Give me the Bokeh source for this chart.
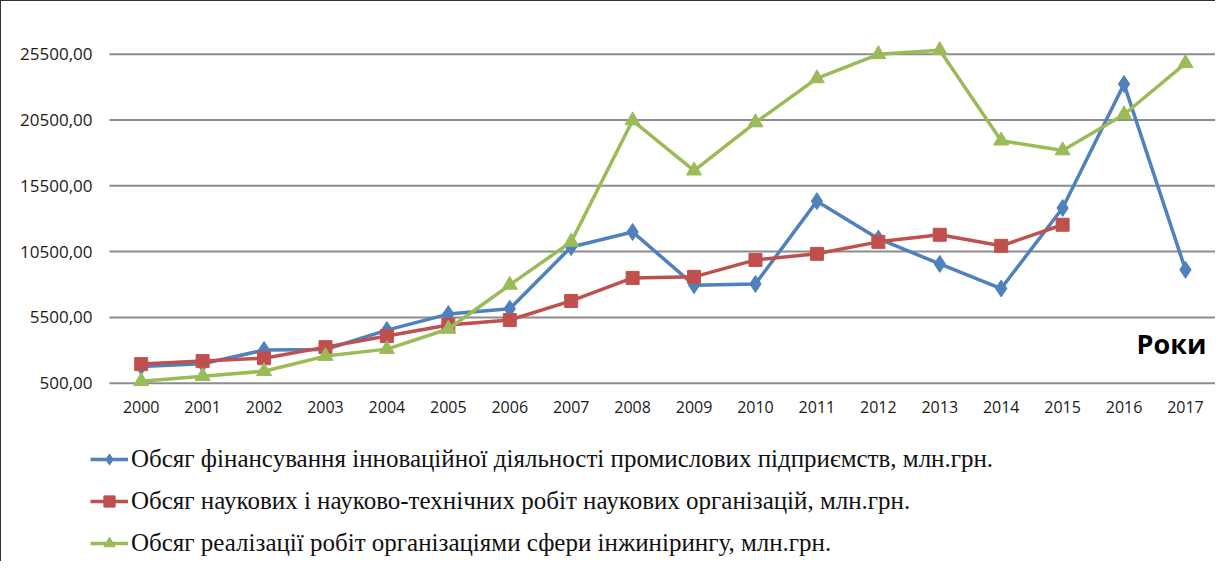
from bokeh.plotting import figure
from bokeh.models import Legend, LegendItem, Label, FixedTicker, Range1d
from bokeh.embed import file_html
from bokeh.resources import INLINE
import numpy as np

years = list(range(2000, 2018))
innovation = [1760, 1979, 3014, 3060, 4535, 5752, 6160, 10851, 11994, 7950,
              8046, 14334, 11481, 9563, 7696, 13814, 23230, 9118]
science = [1950, 2180, 2400, 3240, 4080, 4920, 5300, 6750, 8500, 8580,
           9870, 10330, 11240, 11780, 10940, 12540, np.nan, np.nan]
engineering = [650, 1030, 1410, 2560, 3090, 4620, 7970, 11240, 20460, 16650,
               20310, 23660, 25490, 25800, 18930, 18180, 20920, 24810]
y_ticks = [500, 5500, 10500, 15500, 20500, 25500]
y_tick_labels = ["500,00", "5500,00", "10500,00", "15500,00", "20500,00", "25500,00"]
names = [
    "Обсяг фінансування інноваційної діяльності промислових підприємств, млн.грн.",
    "Обсяг наукових і науково-технічних робіт наукових організацій, млн.грн.",
    "Обсяг реалізації робіт організаціями сфери інжинірингу, млн.грн.",
]
axis_title = "Роки"

BLUE = "#4F81BD"
RED = "#C0504D"
GREEN = "#9BBB59"

# plot-area extent (category axis: half a category of padding each side)
X_LEFT = 1999.484
X_RIGHT = 2017.505
Y_MIN = 500

p = figure(width=1215, height=561,
           min_border_left=0, min_border_right=0, min_border_top=0,
           min_border_bottom=0,
           x_range=Range1d(1997.726, 2017.505), y_range=Range1d(-13125, 29505),
           output_backend="svg", toolbar_location=None,
           styles={"border-top": "1.5px solid #333", "border-left": "1.5px solid #333"})
p.outline_line_color = None
p.xgrid.visible = False
p.ygrid.visible = False
p.background_fill_color = "white"
p.border_fill_color = "white"

# horizontal gridlines at the value-axis ticks, spanning the plot area
p.segment(x0=[X_LEFT] * len(y_ticks), x1=[X_RIGHT] * len(y_ticks),
          y0=y_ticks, y1=y_ticks, line_color="#8c8c8c", line_width=2)

p.yaxis.fixed_location = X_LEFT
p.yaxis.ticker = FixedTicker(ticks=y_ticks)
p.yaxis.major_label_overrides = {t: s for t, s in zip(y_ticks, y_tick_labels)}
p.yaxis.axis_line_color = None
p.yaxis.major_tick_line_color = None
p.yaxis.major_tick_out = 0
p.yaxis.major_tick_in = 0
p.yaxis.minor_tick_line_color = None
p.yaxis.major_label_text_font = "Open Sans"
p.yaxis.major_label_text_font_size = "17px"
p.yaxis.major_label_text_color = "#1a1a1a"
p.yaxis.major_label_standoff = 17

p.xaxis.fixed_location = Y_MIN
p.xaxis.ticker = FixedTicker(ticks=years)
p.xaxis.axis_line_color = None
p.xaxis.major_tick_line_color = None
p.xaxis.major_tick_out = 0
p.xaxis.major_tick_in = 0
p.xaxis.minor_tick_line_color = None
p.xaxis.major_label_text_font = "Open Sans"
p.xaxis.major_label_text_font_size = "16px"
p.xaxis.major_label_text_color = "#1a1a1a"
p.xaxis.major_label_standoff = 18

r1l = p.line(years, innovation, line_color=BLUE, line_width=3.5)
r1m = p.scatter(years, innovation, marker="diamond", size=17, fill_color=BLUE, line_color=BLUE)
r2l = p.line(years, science, line_color=RED, line_width=3.5)
r2m = p.scatter(years, science, marker="square", size=13, fill_color=RED, line_color=RED)
r3l = p.line(years, engineering, line_color=GREEN, line_width=3.5)
r3m = p.scatter(years, engineering, marker="triangle", size=15, fill_color=GREEN, line_color=GREEN)

p.add_layout(Label(x=2017.34, y=2073, text=axis_title, text_align="right",
                   text_font="Open Sans", text_font_style="bold",
                   text_font_size="27px", text_color="black"))

legend = Legend(items=[
    LegendItem(label=names[0], renderers=[r1l, r1m]),
    LegendItem(label=names[1], renderers=[r2l, r2m]),
    LegendItem(label=names[2], renderers=[r3l, r3m]),
], location=(89, 5), orientation="vertical",
    label_text_font="Liberation Serif", label_text_font_size="25px",
    label_text_color="#111111",
    glyph_width=38, glyph_height=28, label_height=28, label_standoff=3,
    spacing=14, padding=4, margin=0,
    border_line_color=None, background_fill_alpha=0)
p.add_layout(legend, "center")

open("out.html", "w").write(file_html(p, INLINE))
